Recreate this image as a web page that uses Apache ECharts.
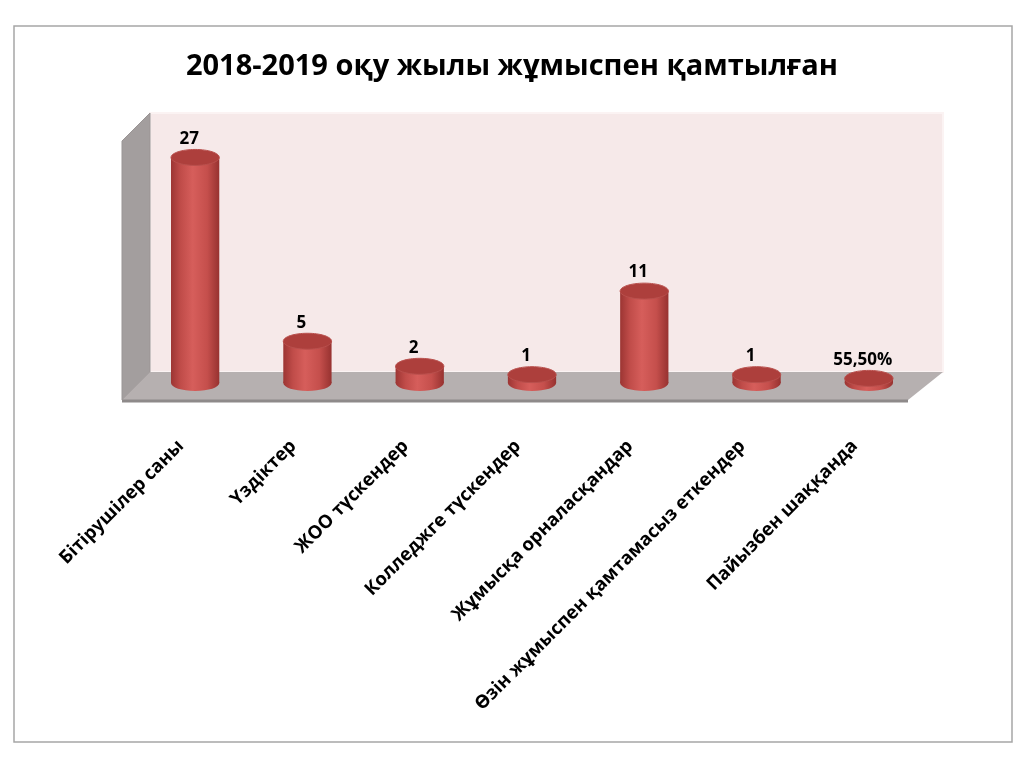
<!DOCTYPE html>
<html>
<head>
<meta charset="utf-8">
<script src="https://cdn.jsdelivr.net/npm/echarts@6/dist/echarts.min.js"></script>
<style>
  html, body { margin: 0; padding: 0; background: #fff; }
  #chart { width: 1024px; height: 768px; }
</style>
</head>
<body>
<div id="chart"></div>
<script>
// 2018-2019 оқу жылы жұмыспен қамтылған
var categories = ['Бітірушілер саны', 'Үздіктер', 'ЖОО түскендер', 'Колледжге түскендер',
                  'Жұмысқа орналасқандар', 'Өзін жұмыспен қамтамасыз еткендер', 'Пайызбен шаққанда'];
var values = [27, 5, 2, 1, 11, 1, 0.555];
var valueLabels = ['27', '5', '2', '1', '11', '1', '55,50%'];

var chart = echarts.init(document.getElementById('chart'));

var FONT = '"Open Sans", "Noto Sans", sans-serif';

// back wall, side wall and floor, drawn round the bar plane of the grid
function renderWalls(params, api) {
    var cs = params.coordSys;
    var x0 = cs.x, x1 = cs.x + cs.width;
    var yt = cs.y, yb = cs.y + cs.height;
    var bk = 11, fr = 17, bkr = 18;   // depth offsets: back / front
    return {
        type: 'group',
        children: [
            { // back wall
                type: 'rect',
                shape: { x: x0 + bk, y: yt - bk, width: (x1 + bkr) - (x0 + bk), height: yb - yt },
                style: { fill: '#f6e9e9', stroke: '#fbf3f3', lineWidth: 2 }
            },
            { // left side wall
                type: 'polygon',
                shape: { points: [[x0 - fr, yt + fr], [x0 + bk, yt - bk], [x0 + bk, yb - bk], [x0 - fr, yb + fr]] },
                style: { fill: '#a39e9e', stroke: '#9a9595', lineWidth: 1 }
            },
            { // floor
                type: 'polygon',
                shape: { points: [[x0 - fr, yb + fr], [x1 - fr, yb + fr], [x1 + bkr, yb - bk], [x0 + bk, yb - bk]] },
                style: { fill: '#b6b0b0' }
            },
            { // floor front edge
                type: 'line',
                shape: { x1: x0 - fr, y1: yb + fr + 1, x2: x1 - fr, y2: yb + fr + 1 },
                style: { stroke: '#8e8a8a', lineWidth: 3 }
            }
        ]
    };
}

function renderCylinder(params, api) {
    var idx = api.value(0);
    var top = api.coord([idx, api.value(1)]);
    var base = api.coord([idx, 0]);
    var band = api.size([1, 0])[0];
    var rx = band * 0.215, ry = rx * 0.33;
    var grad = new echarts.graphic.LinearGradient(0, 0, 1, 0, [
        { offset: 0, color: '#9c3533' },
        { offset: 0.2, color: '#c04c49' },
        { offset: 0.45, color: '#d65e5b' },
        { offset: 0.75, color: '#c54f4c' },
        { offset: 1, color: '#973230' }
    ]);
    return {
        type: 'group',
        children: [
            { type: 'ellipse', shape: { cx: base[0], cy: base[1], rx: rx, ry: ry }, style: { fill: grad } },
            { type: 'rect', shape: { x: base[0] - rx, y: top[1], width: 2 * rx, height: base[1] - top[1] }, style: { fill: grad } },
            { type: 'ellipse', shape: { cx: top[0], cy: top[1], rx: rx, ry: ry },
              style: { fill: '#ad3f3c', stroke: '#b9504d', lineWidth: 1 } },
            { type: 'text',
              style: { text: valueLabels[idx], x: top[0] - 6, y: top[1] - ry - 2,
                       align: 'center', verticalAlign: 'bottom',
                       fontFamily: FONT, fontWeight: 'bold', fontSize: 17, fill: '#000' } }
        ]
    };
}

var option = {
    backgroundColor: '#fff',
    animation: false,
    title: {
        text: '2018-2019 оқу жылы жұмыспен қамтылған',
        left: 'center',
        top: 47,
        textStyle: { fontFamily: FONT, fontWeight: 'bold', fontSize: 29, color: '#000' }
    },
    graphic: [{
        type: 'rect',
        shape: { x: 14, y: 26, width: 998, height: 716 },
        style: { fill: 'none', stroke: '#a6a6a6', lineWidth: 1.5 },
        z: -10
    }],
    grid: { left: 139, right: 99, top: 124, bottom: 385 },
    xAxis: {
        type: 'category',
        data: categories,
        axisLine: { show: false },
        axisTick: { show: false },
        axisLabel: {
            interval: 0,
            rotate: 45,
            margin: 46,
            padding: [0, 20, 0, 0],
            fontFamily: FONT,
            fontWeight: 'bold',
            fontSize: 18.5,
            color: '#000'
        }
    },
    yAxis: {
        type: 'value',
        min: 0,
        max: 31,
        show: false
    },
    series: [
        {
            type: 'custom',
            renderItem: renderWalls,
            data: [[0, 0]],
            silent: true,
            z: 1
        },
        {
            type: 'custom',
            renderItem: renderCylinder,
            data: values.map(function (v, i) { return [i, v]; }),
            encode: { x: 0, y: 1 },
            z: 2
        }
    ]
};

chart.setOption(option);
</script>
</body>
</html>
